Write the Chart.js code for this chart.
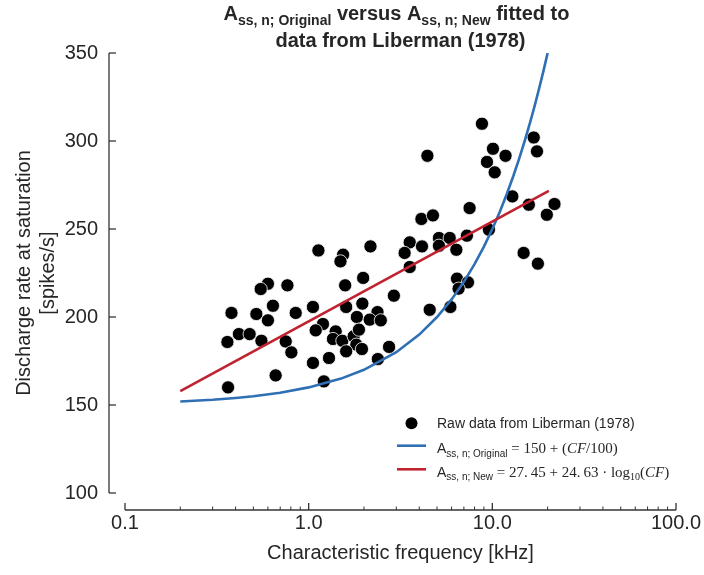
<!DOCTYPE html>
<html>
<head>
<meta charset="utf-8">
<script src="https://cdn.jsdelivr.net/npm/chart.js@4.4.1/dist/chart.umd.min.js"></script>
<style>
  html, body { margin: 0; padding: 0; background: #fff; }
  #wrap { width: 704px; height: 575px; }
</style>
</head>
<body>
<div id="wrap"><canvas id="chart" width="704" height="575"></canvas></div>
<script>
// Raw data: characteristic frequency [kHz] / rate [spikes/s]
const rawCF = [1.13, 1.54, 1.49, 2.17, 0.60, 0.548, 0.766, 1.58, 1.98, 2.91,
  0.38, 0.519, 0.639, 0.60, 0.85, 1.055, 1.60, 1.96, 1.83, 2.37,
  2.15, 2.47, 0.417, 0.477, 0.361, 0.553, 0.75, 1.196, 1.092, 1.403,
  1.356, 1.526, 1.758, 1.878, 1.818, 1.60, 1.95, 0.805, 1.055, 1.29,
  2.74, 2.38, 0.661, 1.21, 0.364,
  8.78, 4.43, 16.8, 17.5, 10.08, 11.8, 9.35, 10.3, 12.85, 15.8,
  21.8, 19.8, 7.52, 4.11, 4.75, 3.55, 3.33, 4.14, 5.12, 5.12,
  5.86, 6.37, 7.27, 9.58, 14.8, 17.7, 3.55, 6.42, 7.37, 6.55,
  4.56, 5.91];
const rawRate = [237.8, 235.4, 231.6, 240.1, 218.9, 215.9, 218.0, 218.0, 222.2, 212.1,
  202.3, 201.7, 206.4, 198.1, 202.3, 205.7, 205.7, 207.6, 200.0, 202.8,
  198.5, 198.1, 190.3, 190.3, 185.8, 186.5, 186.1, 196.0, 192.4, 191.8,
  187.5, 186.5, 189.0, 192.8, 184.3, 180.5, 181.8, 179.9, 173.9, 176.7,
  183.0, 176.1, 166.8, 163.4, 160.0,
  309.8, 291.6, 302.0, 294.1, 295.6, 291.6, 288.1, 282.2, 268.5, 263.8,
  264.2, 258.1, 261.9, 255.7, 257.7, 242.4, 236.4, 240.1, 244.9, 240.5,
  244.9, 238.2, 246.2, 249.6, 236.4, 230.3, 228.4, 221.8, 219.7, 216.1,
  204.1, 205.7];

// "Original" fit (blue curve), sampled along the drawn line
const origCF = [0.2, 0.3, 0.4, 0.5, 0.7, 1, 1.5, 2, 3, 4, 5, 6, 7, 8, 9, 10,
  11, 12, 13, 14, 15, 16, 17, 18, 19, 20];
const origRate = [152, 153, 154, 155, 157, 160, 165, 170, 180, 190, 200, 210, 220, 230, 240, 250,
  260, 270, 280, 290, 300, 310, 320, 330, 340, 350];

// "New" fit (red line), straight on the log axis: end points
const newCF = [0.2, 20.3];
const newRate = [157.9, 271.7];

const xTicks = [0.1, 1, 10, 100];
const xTickLabels = ["0.1", "1.0", "10.0", "100.0"];
const yTicks = [100, 150, 200, 250, 300, 350];

const BLUE = "#2f6fb4";
const RED = "#c0222f";
const INK = "#262626";
const SANS = "'Liberation Sans', Arial, sans-serif";
const SERIF = "'Liberation Serif', 'Times New Roman', serif";

const toXY = (xs, ys) => xs.map((x, i) => ({ x: x, y: ys[i] }));

// draw a run of text pieces (main text + subscripts) left to right
function drawRich(ctx, x, y, parts) {
  parts.forEach(p => {
    ctx.font = p.font;
    ctx.fillText(p.t, x, y + (p.dy || 0));
    x += ctx.measureText(p.t).width;
  });
  return x;
}
function richWidth(ctx, parts) {
  let w = 0;
  parts.forEach(p => { ctx.font = p.font; w += ctx.measureText(p.t).width; });
  return w;
}

// offset spines, inward ticks, title and legend
const decorPlugin = {
  id: "decor",
  afterDraw(chart) {
    const { ctx, chartArea: a, scales: { x, y } } = chart;
    ctx.save();
    ctx.strokeStyle = "#333";
    ctx.lineWidth = 1.3;
    ctx.lineCap = "butt";

    // y spine
    const yx = a.left - 16;
    ctx.beginPath();
    ctx.moveTo(yx, y.getPixelForValue(350));
    ctx.lineTo(yx, y.getPixelForValue(100));
    ctx.stroke();
    yTicks.forEach(v => {
      const py = y.getPixelForValue(v);
      ctx.beginPath(); ctx.moveTo(yx, py); ctx.lineTo(yx + 7, py); ctx.stroke();
    });

    // x spine
    const xy = a.bottom + 17;
    ctx.beginPath();
    ctx.moveTo(x.getPixelForValue(0.1), xy);
    ctx.lineTo(x.getPixelForValue(100), xy);
    ctx.stroke();
    xTicks.forEach(v => {
      const px = x.getPixelForValue(v);
      ctx.beginPath(); ctx.moveTo(px, xy); ctx.lineTo(px, xy - 7); ctx.stroke();
    });
    ctx.lineWidth = 1;
    [0.1, 1, 10].forEach(d => {
      for (let k = 2; k <= 9; k++) {
        const px = x.getPixelForValue(d * k);
        ctx.beginPath(); ctx.moveTo(px, xy); ctx.lineTo(px, xy - 3.5); ctx.stroke();
      }
    });

    // title
    ctx.fillStyle = INK;
    ctx.textBaseline = "alphabetic";
    const tb = "bold 20px " + SANS, ts = "bold 14px " + SANS;
    const line1 = [
      { t: "A", font: tb }, { t: "ss, n; Original", font: ts, dy: 5 },
      { t: " versus A", font: tb }, { t: "ss, n; New", font: ts, dy: 5 },
      { t: " fitted to", font: tb }
    ];
    const cx = (a.left + a.right) / 2;
    drawRich(ctx, cx - 4 - richWidth(ctx, line1) / 2, 20, line1);
    ctx.font = tb;
    ctx.textAlign = "center";
    ctx.fillText("data from Liberman (1978)", cx, 46.5);
    ctx.textAlign = "left";

    // legend
    const lf = "14px " + SANS, lsub = "10px " + SANS;
    const mf = "15px " + SERIF, mi = "italic 15px " + SERIF, msub = "10px " + SERIF;
    const tx = 437;
    ctx.fillStyle = "#000";
    ctx.beginPath(); ctx.arc(411.5, 423.3, 6, 0, Math.PI * 2); ctx.fill();
    ctx.fillStyle = INK;
    ctx.font = lf;
    ctx.fillText("Raw data from Liberman (1978)", tx, 428.3);

    ctx.lineWidth = 2.6;
    ctx.strokeStyle = chart.data.datasets[1].borderColor;
    ctx.beginPath(); ctx.moveTo(397, 445.7); ctx.lineTo(426, 445.7); ctx.stroke();
    drawRich(ctx, tx, 453, [
      { t: "A", font: lf }, { t: "ss, n; Original", font: lsub, dy: 3.5 },
      { t: " = 150 + (", font: mf }, { t: "CF", font: mi }, { t: "/100)", font: mf }
    ]);

    ctx.strokeStyle = chart.data.datasets[2].borderColor;
    ctx.beginPath(); ctx.moveTo(397, 469.3); ctx.lineTo(426, 469.3); ctx.stroke();
    drawRich(ctx, tx, 476.5, [
      { t: "A", font: lf }, { t: "ss, n; New", font: lsub, dy: 3.5 },
      { t: " = 27.\u200945 + 24.\u200963 \u00b7 log", font: mf }, { t: "10", font: msub, dy: 3.5 },
      { t: "(", font: mf }, { t: "CF", font: mi }, { t: ")", font: mf }
    ]);
    ctx.restore();
  }
};

const ctx = document.getElementById("chart").getContext("2d");
new Chart(ctx, {
  type: "scatter",
  data: {
    datasets: [
      {
        label: "Raw data from Liberman (1978)",
        data: toXY(rawCF, rawRate),
        backgroundColor: "#000",
        borderColor: "#fff",
        borderWidth: 0.8,
        pointRadius: 6.6,
        order: 2
      },
      {
        label: "A ss,n; Original = 150 + (CF/100)",
        data: toXY(origCF, origRate),
        showLine: true,
        borderColor: BLUE,
        borderWidth: 2.6,
        pointRadius: 0,
        fill: false,
        order: 1
      },
      {
        label: "A ss,n; New = 27.45 + 24.63 log10(CF)",
        data: toXY(newCF, newRate),
        showLine: true,
        borderColor: RED,
        borderWidth: 2.6,
        pointRadius: 0,
        fill: false,
        order: 0
      }
    ]
  },
  options: {
    responsive: false,
    animation: false,
    devicePixelRatio: 1,
    layout: { padding: { left: 0, right: 28, top: 53, bottom: 0 } },
    plugins: {
      legend: { display: false },
      tooltip: { enabled: false },
      title: { display: false }
    },
    scales: {
      x: {
        type: "logarithmic",
        min: 0.1,
        max: 100,
        afterBuildTicks: s => { s.ticks = xTicks.map(v => ({ value: v })); },
        afterFit: s => { s.height = 82; },
        grid: { display: false, drawTicks: true, tickLength: 18 },
        border: { display: false },
        ticks: {
          autoSkip: false,
          maxRotation: 0,
          padding: 0,
          color: INK,
          font: { family: SANS, size: 20 },
          callback: v => xTickLabels[xTicks.indexOf(v)]
        },
        title: {
          display: true,
          text: "Characteristic frequency [kHz]",
          color: INK,
          font: { family: SANS, size: 20 },
          padding: { top: 0, bottom: 10 }
        }
      },
      y: {
        min: 100,
        max: 350,
        afterBuildTicks: s => { s.ticks = yTicks.map(v => ({ value: v })); },
        afterFit: s => { s.width = 125; },
        grid: { display: false, drawTicks: false },
        border: { display: false },
        ticks: {
          padding: 27,
          color: INK,
          font: { family: SANS, size: 20 }
        },
        title: {
          display: true,
          text: ["Discharge rate at saturation", "[spikes/s]"],
          color: INK,
          font: { family: SANS, size: 20 },
          padding: { top: 12, bottom: 0 }
        }
      }
    }
  },
  plugins: [decorPlugin]
});
</script>
</body>
</html>
